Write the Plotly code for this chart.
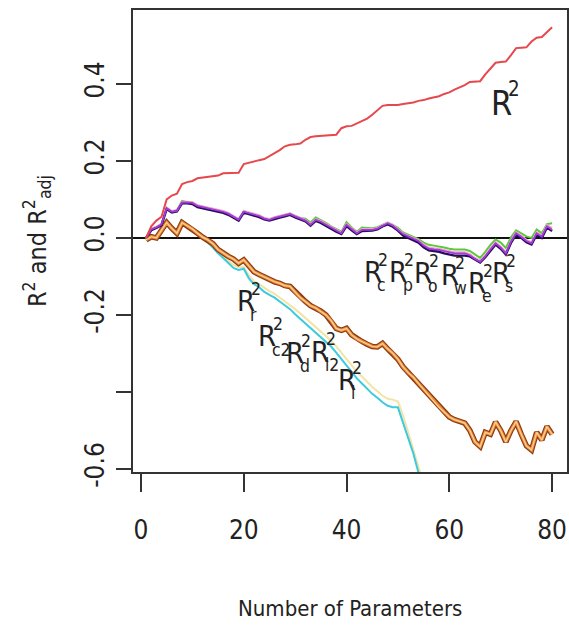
import plotly.graph_objects as go

params = list(range(1, 81))

r2 = [0.0, 0.03, 0.045, 0.055, 0.10, 0.11, 0.115, 0.14, 0.145, 0.148,
      0.155, 0.157, 0.158, 0.16, 0.162, 0.168, 0.168, 0.168, 0.169, 0.192,
      0.196, 0.199, 0.202, 0.205, 0.212, 0.22, 0.228, 0.238, 0.242, 0.243,
      0.245, 0.255, 0.262, 0.264, 0.265, 0.266, 0.267, 0.268, 0.285, 0.29,
      0.291, 0.298, 0.305, 0.31, 0.32, 0.332, 0.343, 0.345, 0.345, 0.345,
      0.348, 0.35, 0.352, 0.356, 0.358, 0.362, 0.365, 0.368, 0.374, 0.378,
      0.385, 0.39, 0.397, 0.405, 0.406, 0.407, 0.425, 0.44, 0.455, 0.457,
      0.458, 0.475, 0.493, 0.494, 0.495, 0.51, 0.52, 0.522, 0.535, 0.547]

adj_purple = [0.0, 0.022, 0.027, 0.035, 0.077, 0.068, 0.07, 0.092, 0.092, 0.091,
              0.083, 0.08, 0.077, 0.074, 0.072, 0.068, 0.063, 0.055, 0.047, 0.068,
              0.064, 0.06, 0.057, 0.05, 0.047, 0.052, 0.055, 0.058, 0.062, 0.056,
              0.05, 0.045, 0.034, 0.047, 0.042, 0.034, 0.026, 0.018, 0.012, 0.034,
              0.022, 0.012, 0.021, 0.021, 0.021, 0.024, 0.032, 0.038, 0.032, 0.022,
              0.01, 0.004, -0.003, -0.008, -0.02, -0.028, -0.03, -0.031, -0.034, -0.038,
              -0.04, -0.04, -0.04, -0.045, -0.055, -0.062, -0.048, -0.03, -0.014, -0.025,
              -0.04, -0.01, 0.012, 0.003, -0.008, -0.014, 0.012, 0.003, 0.03, 0.021]

adj_dark = [0.0, 0.02, 0.026, 0.033, 0.075, 0.066, 0.069, 0.09, 0.09, 0.088,
            0.08, 0.077, 0.074, 0.07, 0.069, 0.065, 0.06, 0.052, 0.045, 0.066,
            0.061, 0.058, 0.054, 0.048, 0.045, 0.05, 0.053, 0.056, 0.06, 0.053,
            0.047, 0.043, 0.032, 0.044, 0.039, 0.031, 0.023, 0.016, 0.01, 0.031,
            0.02, 0.01, 0.018, 0.018, 0.019, 0.022, 0.03, 0.035, 0.029, 0.019,
            0.006, 0.0, -0.006, -0.012, -0.024, -0.032, -0.034, -0.036, -0.04, -0.044,
            -0.046, -0.046, -0.046, -0.048, -0.057, -0.064, -0.05, -0.033, -0.017, -0.028,
            -0.043, -0.013, 0.009, 0.0, -0.011, -0.017, 0.009, 0.0, 0.027, 0.018]

adj_green = [0.0, 0.023, 0.028, 0.036, 0.078, 0.069, 0.072, 0.096, 0.093, 0.092,
             0.084, 0.081, 0.078, 0.075, 0.073, 0.069, 0.064, 0.056, 0.048, 0.069,
             0.065, 0.061, 0.058, 0.051, 0.048, 0.053, 0.056, 0.059, 0.063, 0.057,
             0.052, 0.05, 0.04, 0.053, 0.047, 0.039, 0.03, 0.022, 0.016, 0.041,
             0.027, 0.016, 0.027, 0.026, 0.025, 0.028, 0.035, 0.04, 0.034, 0.026,
             0.014, 0.008, 0.002, -0.003, -0.012, -0.018, -0.02, -0.022, -0.025, -0.028,
             -0.03, -0.03, -0.03, -0.034, -0.044, -0.052, -0.036, -0.018, -0.004, -0.012,
             -0.026, 0.002, 0.02, 0.012, 0.004, 0.0, 0.022, 0.012, 0.036, 0.038]

adj_pink = [0.0, 0.024, 0.029, 0.037, 0.079, 0.07, 0.072, 0.094, 0.094, 0.093,
            0.085, 0.082, 0.079, 0.076, 0.074, 0.07, 0.065, 0.057, 0.049, 0.07,
            0.066, 0.062, 0.059, 0.052, 0.049, 0.054, 0.057, 0.06, 0.064, 0.058,
            0.052, 0.047, 0.036, 0.049, 0.044, 0.036, 0.028, 0.02, 0.014, 0.036,
            0.024, 0.014, 0.023, 0.023, 0.023, 0.026, 0.034, 0.04, 0.034, 0.024,
            0.012, 0.006, -0.001, -0.006, -0.017, -0.025, -0.027, -0.028, -0.031, -0.035,
            -0.037, -0.037, -0.037, -0.042, -0.052, -0.059, -0.045, -0.027, -0.011, -0.022,
            -0.037, -0.007, 0.015, 0.006, -0.005, -0.011, 0.015, 0.006, 0.033, 0.026]

adj_orange = [-0.005, 0.003, 0.0, 0.02, 0.04, 0.025, 0.012, 0.04, 0.032, 0.023,
              0.012, 0.002, -0.005, -0.015, -0.03, -0.04, -0.048, -0.055, -0.066, -0.057,
              -0.074, -0.088, -0.095, -0.102, -0.108, -0.114, -0.118, -0.124, -0.126, -0.14,
              -0.155, -0.165, -0.176, -0.182, -0.19, -0.2, -0.215, -0.235, -0.24, -0.235,
              -0.252, -0.262, -0.269, -0.276, -0.282, -0.283, -0.274, -0.288, -0.3, -0.315,
              -0.335, -0.35, -0.362, -0.378, -0.393, -0.41, -0.425, -0.44, -0.452, -0.465,
              -0.472, -0.476, -0.481, -0.5, -0.53, -0.542, -0.505, -0.51, -0.478, -0.5,
              -0.53, -0.5, -0.477, -0.51, -0.54, -0.551, -0.505, -0.525, -0.49, -0.51]

params_low = list(range(1, 56))

adj_cyan = [-0.005, 0.003, 0.0, 0.02, 0.04, 0.025, 0.012, 0.04, 0.03, 0.02,
            0.01, -0.002, -0.012, -0.025, -0.04, -0.052, -0.066, -0.078, -0.083, -0.08,
            -0.105, -0.12, -0.128, -0.14, -0.148, -0.155, -0.165, -0.175, -0.185, -0.198,
            -0.21, -0.222, -0.235, -0.248, -0.258, -0.27, -0.282, -0.298, -0.315, -0.33,
            -0.35, -0.365, -0.378, -0.392, -0.405, -0.415, -0.427, -0.436, -0.44, -0.44,
            -0.48, -0.52, -0.56, -0.61, -0.66]

adj_yellow = [-0.005, 0.003, 0.0, 0.02, 0.04, 0.025, 0.012, 0.04, 0.031, 0.021,
              0.011, 0.0, -0.009, -0.021, -0.035, -0.047, -0.06, -0.07, -0.076, -0.075,
              -0.098, -0.112, -0.12, -0.13, -0.138, -0.145, -0.155, -0.163, -0.173, -0.185,
              -0.196, -0.208, -0.22, -0.232, -0.243, -0.255, -0.267, -0.282, -0.298, -0.313,
              -0.332, -0.347, -0.36, -0.374, -0.387, -0.398, -0.41, -0.418, -0.42, -0.425,
              -0.462, -0.505, -0.548, -0.595, -0.64]

y_tickvals = [-0.6, -0.2, 0.0, 0.2, 0.4]
y_ticktext = ["-0.6", "-0.2", "0.0", "0.2", "0.4"]
y_unlabelled_ticks = [-0.4]
x_tickvals = [0, 20, 40, 60, 80]
x_ticktext = ["0", "20", "40", "60", "80"]

# label: (x, y, subscript, size)
labels_top = [(67.7, 0.35, "", 34)]
labels_mid = [(43.0, -0.088, "c", 29), (47.9, -0.088, "p", 29), (52.8, -0.092, "o", 29),
              (57.9, -0.096, "w", 29), (63.3, -0.118, "e", 29), (67.9, -0.092, "s", 29)]
labels_low = [(18.2, -0.165, "r", 29), (22.4, -0.256, "c2", 29), (27.9, -0.300, "d", 29),
              (32.7, -0.295, "l2", 29), (37.9, -0.369, "l", 29)]

FONT = "DejaVu Sans Condensed, Roboto, Arial, sans-serif"

fig = go.Figure()

def add_line(x, y, color, width):
    fig.add_trace(go.Scatter(x=x, y=y, mode="lines", showlegend=False,
                             line=dict(color=color, width=width), hoverinfo="skip"))

# lowest group
add_line(params_low, adj_yellow, "#F3E3A6", 2)
add_line(params_low, adj_cyan, "#3CCBDD", 2)
# orange group: brown outline, orange, light core
add_line(params, adj_orange, "#8A3B12", 5.5)
add_line(params, adj_orange, "#EE8B3A", 3.2)
add_line(params, adj_orange, "#FBD49A", 1.2)
# adjusted group near zero
add_line(params, adj_green, "#5CC83C", 2)
add_line(params, adj_pink, "#F2A8C8", 2)
add_line(params, adj_dark, "#2A0C5E", 2.4)
add_line(params, adj_purple, "#A13BDA", 1.8)
# R2
add_line(params, r2, "#E5484D", 2)

annotations = []
for (lx, ly, sub, size) in labels_top + labels_mid + labels_low:
    rw = size * 0.5
    annotations.append(dict(x=lx, y=ly, xref="x", yref="y", text="R", showarrow=False,
                            xanchor="left", yanchor="middle",
                            font=dict(family=FONT, size=size, color="#222")))
    annotations.append(dict(x=lx, y=ly, xref="x", yref="y", text="2", showarrow=False,
                            xanchor="left", yanchor="middle", xshift=rw, yshift=size * 0.42,
                            font=dict(family=FONT, size=size * 0.6, color="#222")))
    if sub:
        annotations.append(dict(x=lx, y=ly, xref="x", yref="y", text=sub, showarrow=False,
                                xanchor="left", yanchor="middle", xshift=rw - 1, yshift=-size * 0.45,
                                font=dict(family=FONT, size=size * 0.6, color="#222")))

# axis titles
annotations.append(dict(x=0.5, y=0, xref="paper", yref="paper", yanchor="middle",
                        yshift=-136, text="Number of Parameters", showarrow=False,
                        font=dict(family=FONT, size=22, color="#222")))
annotations.append(dict(x=0, y=0.5, xref="paper", yref="paper", xanchor="center",
                        xshift=-96, text="R<sup>2</sup> and R<sup>2</sup><sub>adj</sub>",
                        textangle=-90, showarrow=False,
                        font=dict(family=FONT, size=25, color="#222")))

fig.update_layout(
    width=569, height=627,
    margin=dict(l=133, r=2, t=10, b=155, autoexpand=False),
    paper_bgcolor="white", plot_bgcolor="white",
    annotations=annotations,
    xaxis=dict(range=[-1.55, 82.9], tickvals=x_tickvals, ticktext=x_ticktext,
               ticks="outside", ticklen=18, tickwidth=2, tickcolor="#333",
               showline=True, linecolor="#333", linewidth=2, mirror=True,
               showgrid=False, zeroline=False, ticklabelstandoff=16, automargin=False,
               tickfont=dict(family=FONT, size=26, color="#222")),
    yaxis=dict(range=[-0.608, 0.592], tickvals=y_tickvals, ticktext=y_ticktext,
               ticks="outside", ticklen=15, tickwidth=2, tickcolor="#333",
               minor=dict(tickvals=y_unlabelled_ticks, ticks="outside", ticklen=15,
                          tickwidth=2, tickcolor="#333", showgrid=False),
               showline=True, linecolor="#333", linewidth=2, mirror=True,
               showgrid=False, zeroline=True, zerolinecolor="#111", zerolinewidth=2,
               tickangle=-90, ticklabelstandoff=2, automargin=False,
               tickfont=dict(family=FONT, size=26, color="#222")),
)

# remove the default page margin so the 569x627 figure fills the window exactly
fig.write_html("out.html", config={"displayModeBar": False},
               post_script="document.body.style.margin='0';document.body.style.overflow='hidden';")
